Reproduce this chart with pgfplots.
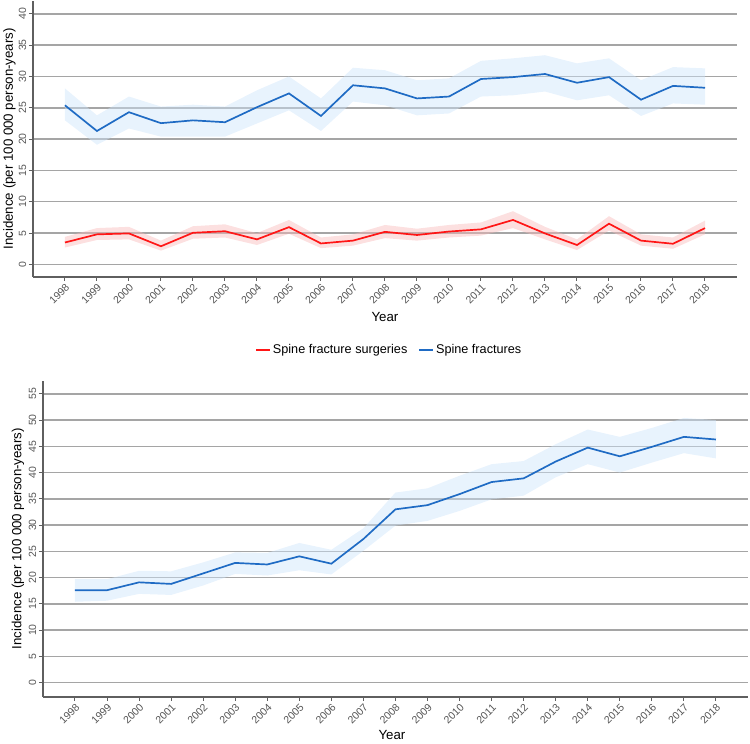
\documentclass[border=0pt]{standalone}
\usepackage{pgfplots}
\pgfplotsset{compat=1.18}
\usepackage{pgfplotstable}
\usepgfplotslibrary{fillbetween}
\usepackage{fontspec}
\setmainfont{Liberation Sans}

\definecolor{blueline}{RGB}{31,107,196}
\definecolor{blueband}{RGB}{205,229,250}
\definecolor{redline}{RGB}{255,22,22}
\definecolor{redband}{RGB}{249,186,186}
\definecolor{gridgray}{RGB}{165,165,165}
\definecolor{axisgray}{RGB}{95,95,95}
\definecolor{ticktext}{RGB}{85,85,85}

\newcommand{\tickfont}{\fontsize{10.5bp}{12bp}\selectfont}
\newcommand{\labfont}{\fontsize{13.3bp}{15bp}\selectfont}

\pgfplotstableread{
year  b     bu    bl    r     ru   rl
1998  25.4  28.1  23.0  3.5   4.4  2.7
1999  21.3  23.8  19.1  4.8   5.8  3.9
2000  24.3  26.8  21.7  4.95  6.0  4.0
2001  22.55 25.2  20.4  2.9   3.8  2.2
2002  23.0  25.5  20.4  5.05  6.1  4.1
2003  22.7  25.2  20.4  5.3   6.4  4.3
2004  25.1  27.8  22.5  4.0   5.0  3.1
2005  27.3  30.0  24.6  5.95  7.1  4.9
2006  23.7  26.5  21.3  3.35  4.3  2.6
2007  28.6  31.4  26.0  3.8   4.8  3.0
2008  28.1  31.0  25.4  5.2   6.3  4.2
2009  26.5  29.4  23.8  4.7   5.7  3.8
2010  26.8  29.7  24.1  5.25  6.3  4.3
2011  29.6  32.5  26.8  5.6   6.7  4.6
2012  29.9  32.9  27.0  7.1   8.5  5.8
2013  30.4  33.4  27.6  4.95  6.0  4.0
2014  29.0  32.1  26.2  3.1   4.0  2.3
2015  29.9  32.9  27.0  6.5   7.7  5.4
2016  26.3  29.4  23.7  3.8   4.8  3.0
2017  28.5  31.5  25.7  3.3   4.3  2.5
2018  28.2  31.3  25.5  5.8   7.0  4.8
}\toptable

\pgfplotstableread{
year  v     u     l
1998  17.6  19.7  15.4
1999  17.6  19.7  15.6
2000  19.1  21.3  16.9
2001  18.8  21.2  16.7
2002  20.8  22.9  18.5
2003  22.8  24.8  20.7
2004  22.5  24.7  20.4
2005  24.05 26.6  21.4
2006  22.65 25.3  20.6
2007  27.35 29.4  25.1
2008  33.0  36.2  29.9
2009  33.8  37.0  30.8
2010  35.9  39.4  32.7
2011  38.2  41.6  34.9
2012  38.9  42.2  35.6
2013  42.1  45.4  39.1
2014  44.75 48.2  41.6
2015  43.1  46.8  40.0
2016  44.9  48.5  41.9
2017  46.8  50.4  43.7
2018  46.3  50.0  42.7
}\bottable

\pgfplotsset{
  ggstyle/.style={
    scale only axis,
    xmin=1997, xmax=2019,
    xtick={1998,...,2018},
    /pgf/number format/1000 sep={},
    /pgf/number format/assume math mode=true,
    axis x line*=bottom,
    axis y line*=left,
    axis line style={axisgray, line width=1.4bp},
    tick align=outside,
    major tick length=4bp,
    tick style={axisgray, line width=1bp},
    ymajorgrids,
    grid style={gridgray, line width=1.4bp},
    xticklabel style={font=\tickfont, text=ticktext, rotate=45, anchor=north east, inner sep=1.5bp},
    yticklabel style={font=\tickfont, text=ticktext, rotate=90, anchor=south, inner sep=2.5bp},
    clip=false,
  },
}

\begin{document}
\begin{tikzpicture}
\path (0,0) rectangle (750bp,-742bp);

\begin{axis}[ggstyle,
  at={(31bp,0bp)}, anchor=north west,
  width=706bp, height=277bp,
  ymin=-2, ymax=42.1,
  ytick={0,5,...,40},
  xlabel={Year}, ylabel={Incidence (per 100 000 person-years)},
  every axis x label/.style={at={(axis description cs:0.5,-0.145)}, anchor=center, font=\labfont},
  every axis y label/.style={at={(axis description cs:-0.0333,0.5)}, rotate=90, anchor=center, font=\labfont},
  legend style={at={(0.506,-0.264)}, anchor=center, draw=none, fill=none,
    legend columns=2, font=\fontsize{12.7bp}{14bp}\selectfont,
    /tikz/every even column/.append style={column sep=9bp}},
  legend image code/.code={\draw[#1, line width=1.8bp] (0bp,0bp) -- (14bp,0bp);},
]
\addplot[name path=bu, draw=none, forget plot] table[x=year, y=bu] {\toptable};
\addplot[name path=bl, draw=none, forget plot] table[x=year, y=bl] {\toptable};
\addplot[blueband, fill opacity=0.45, forget plot] fill between[of=bu and bl];
\addplot[name path=ru, draw=none, forget plot] table[x=year, y=ru] {\toptable};
\addplot[name path=rl, draw=none, forget plot] table[x=year, y=rl] {\toptable};
\addplot[redband, fill opacity=0.45, forget plot] fill between[of=ru and rl];
\addplot[redline, line width=1.7bp, mark=none] table[x=year, y=r] {\toptable};
\addlegendentry{Spine fracture surgeries}
\addplot[blueline, line width=1.7bp, mark=none] table[x=year, y=b] {\toptable};
\addlegendentry{Spine fractures}
\end{axis}

\begin{axis}[ggstyle,
  at={(41bp,-381bp)}, anchor=north west,
  width=707bp, height=317bp,
  ymin=-2.7, ymax=57.5,
  ytick={0,5,...,55},
  xlabel={Year}, ylabel={Incidence (per 100 000 person-years)},
  every axis x label/.style={at={(axis description cs:0.495,-0.122)}, anchor=center, font=\labfont},
  every axis y label/.style={at={(axis description cs:-0.0354,0.5)}, rotate=90, anchor=center, font=\labfont},
]
\addplot[name path=u, draw=none] table[x=year, y=u] {\bottable};
\addplot[name path=l, draw=none] table[x=year, y=l] {\bottable};
\addplot[blueband, fill opacity=0.45] fill between[of=u and l];
\addplot[blueline, line width=1.7bp, mark=none] table[x=year, y=v] {\bottable};
\end{axis}
\end{tikzpicture}
\end{document}
